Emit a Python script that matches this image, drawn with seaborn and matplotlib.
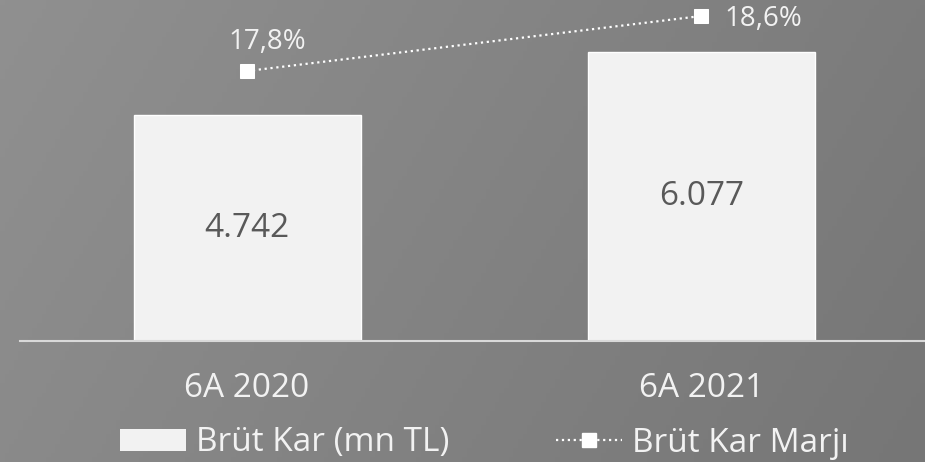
import numpy as np
import pandas as pd
import matplotlib
matplotlib.use("Agg")
import matplotlib.pyplot as plt
import seaborn as sns
from matplotlib.patches import Patch
from matplotlib.lines import Line2D

# ---- data ----
categories = ["6A 2020", "6A 2021"]
gross_profit = [4742, 6077]          # Brüt Kar (mn TL)
gross_margin = [17.8, 18.6]          # Brüt Kar Marjı (%)
bar_label_text = "Brüt Kar (mn TL)"
line_label_text = "Brüt Kar Marjı"

sns.set_style("white")
plt.rcParams["font.family"] = ["Open Sans", "DejaVu Sans"]

W, H = 925, 462
fig = plt.figure(figsize=(W / 100, H / 100), dpi=100)

# background gradient
bg = fig.add_axes([0, 0, 1, 1], zorder=-10)
xx, yy = np.meshgrid(np.linspace(0, 1, 200), np.linspace(0, 1, 100))
vals = 0x90 - 20 * xx - 6 * yy
img = np.dstack([vals, vals, vals]) / 255.0
bg.imshow(img, aspect="auto", extent=[0, 1, 0, 1], origin="upper")
bg.set_axis_off()

ax = fig.add_axes([20 / W, 121 / H, (W - 20) / W, 341 / H])
ax.patch.set_alpha(0)

df = pd.DataFrame({"cat": categories, "val": gross_profit})
sns.barplot(data=df, x="cat", y="val", color="#f2f2f2", width=0.5,
            saturation=1, ax=ax, zorder=2)
ax.set_xlim(-0.5, 1.493)
ax.set_ylim(0, 7170)
ax.bar_label(ax.containers[0], labels=[f"{v:,.0f}".replace(",", ".") for v in gross_profit],
             label_type="center", color="#595959", fontsize=24)

for s in ["top", "left", "right"]:
    ax.spines[s].set_visible(False)
ax.spines["bottom"].set_color("#d9d9d9")
ax.spines["bottom"].set_linewidth(1.5)
ax.set_yticks([])
ax.set_xlabel("")
ax.set_ylabel("")
ax.tick_params(axis="x", length=0, pad=22, labelsize=24, labelcolor="#f2f2f2")

ax2 = ax.twinx()
pos = np.arange(len(categories))
sns.lineplot(x=pos, y=gross_margin, ax=ax2, color="white", linestyle=":",
             linewidth=1.6, marker="s", markersize=10, markeredgecolor="white",
             markerfacecolor="white", zorder=3)
ax2.set_ylim(13.873, 18.833)
ax2.set_xlim(-0.5, 1.493)
ax2.set_yticks([])
ax2.set_ylabel("")
for s in ax2.spines.values():
    s.set_visible(False)

fmt = lambda v: f"{v:.1f}".replace(".", ",") + "%"
ax2.annotate(fmt(gross_margin[0]), (pos[0], gross_margin[0]), xytext=(14.4, 21),
             textcoords="offset points", ha="center", va="center",
             color="#f2f2f2", fontsize=20, annotation_clip=False)
ax2.annotate(fmt(gross_margin[1]), (pos[1], gross_margin[1]), xytext=(17, -2),
             textcoords="offset points", ha="left", va="center",
             color="#f2f2f2", fontsize=20, annotation_clip=False)

handles = [Patch(facecolor="#f2f2f2", edgecolor="none"),
           Line2D([0], [0], color="white", linestyle=":", linewidth=1.6,
                  marker="s", markersize=10, markerfacecolor="white",
                  markeredgecolor="white")]
fig.legend(handles, [bar_label_text, line_label_text], loc="center",
           bbox_to_anchor=(484 / W, 1 - 443 / H), ncol=2, frameon=False,
           fontsize=24, labelcolor="#f2f2f2", handlelength=2.0,
           handleheight=0.64, handletextpad=0.28, columnspacing=3.2,
           borderpad=0, numpoints=1)

fig.savefig("out.png", dpi=100)
